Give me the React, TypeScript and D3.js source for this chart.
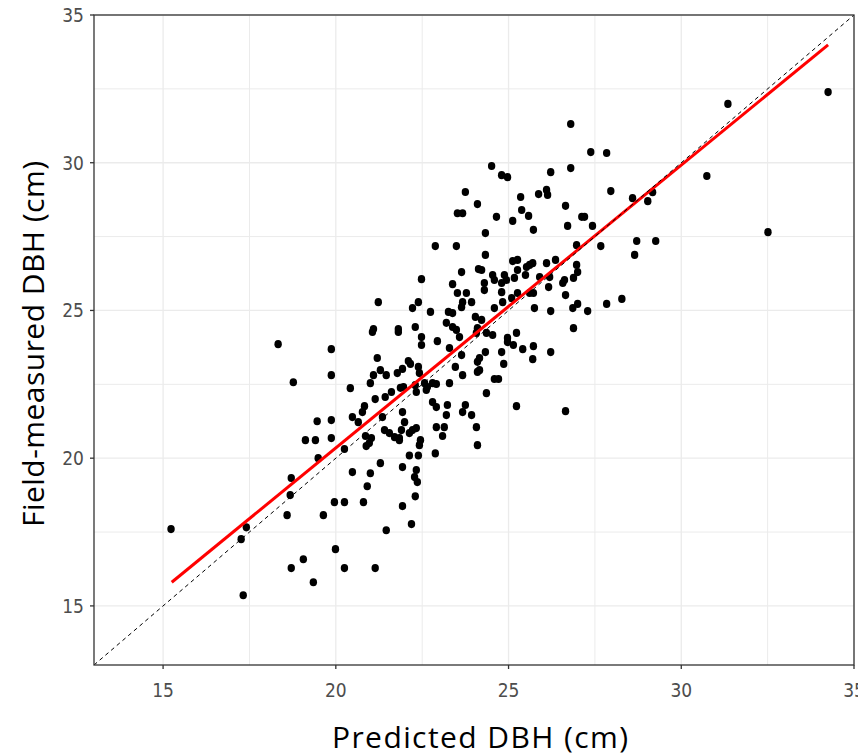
import React from "react";
import * as d3 from "d3";

// Predicted DBH (cm), Field-measured DBH (cm)
const observations: [number, number][] = [
  [15.23,17.60],[17.26,17.26],[17.41,17.66],[17.32,15.36],[18.33,23.86],[18.77,22.57],[19.46,21.25],[19.12,20.61],[19.41,20.61],[19.49,20.00],
  [18.71,19.33],[18.68,18.75],[18.59,18.07],[19.64,18.07],[19.06,16.58],[18.71,16.28],[19.35,15.80],[19.87,23.69],[19.87,22.81],[20.25,16.28],
  [21.14,16.28],[21.06,24.27],[21.81,24.27],[22.48,24.10],[22.48,23.83],[22.94,23.96],[21.20,23.39],[21.29,22.98],[21.09,22.81],[21.46,22.81],
  [22.10,23.29],[22.16,23.19],[21.93,23.02],[21.78,22.88],[22.39,23.09],[22.42,22.88],[21.96,22.41],[21.87,22.38],[21.61,22.24],[21.43,22.07],
  [21.14,22.00],[21.00,22.54],[20.42,22.37],[20.83,21.76],[20.77,21.56],[20.48,21.39],[20.65,21.22],[19.87,21.29],[19.87,20.68],[20.25,20.31],
  [20.86,20.75],[21.03,20.68],[20.97,20.51],[20.88,20.41],[21.35,21.39],[21.41,20.95],[21.55,20.85],[21.70,20.71],[21.84,20.68],[21.90,20.95],
  [21.84,20.61],[21.93,21.56],[21.99,21.22],[22.13,20.85],[22.22,20.95],[22.33,21.02],[22.45,20.61],[22.42,20.44],[22.33,22.24],[22.30,22.47],
  [22.57,22.54],[22.65,22.41],[22.62,22.31],[22.80,22.54],[22.91,22.51],[23.29,22.54],[22.80,21.90],[22.91,21.73],[23.23,21.80],[23.20,21.46],
  [23.75,21.80],[23.67,21.56],[23.93,21.46],[24.07,21.05],[22.91,21.05],[23.14,21.05],[23.09,20.75],[24.10,20.44],[22.13,20.09],[22.39,20.09],
  [22.88,20.16],[21.29,19.83],[20.48,19.53],[21.00,19.49],[21.93,19.70],[22.33,19.60],[22.28,19.36],[22.36,19.19],[20.91,19.05],[22.30,18.71],
  [19.96,18.51],[20.25,18.51],[20.80,18.51],[21.93,18.38],[22.19,17.77],[21.46,17.56],[19.99,16.92],[23.49,24.34],[23.58,24.10],[23.64,23.49],
  [24.07,24.24],[24.10,23.26],[24.10,22.92],[23.46,23.09],[23.67,22.81],[23.29,23.73],
  [23.75,29.01],[24.10,28.60],[23.52,28.29],[23.67,28.29],[22.88,27.18],[23.49,27.18],[24.13,26.40],[23.64,26.30],[22.48,26.06],[23.38,25.89],
  [23.52,25.59],[23.78,25.59],[21.23,25.28],[22.39,25.28],[22.22,25.08],[22.74,24.95],[23.67,25.28],[23.64,25.11],[23.93,25.28],[23.26,24.95],
  [23.38,24.91],[23.20,24.58],[23.38,24.44],[24.04,24.78],[21.09,24.37],[21.81,24.37],[22.30,24.44],[24.10,24.40],
  [26.80,31.31],[27.38,30.36],[27.84,30.33],[24.51,29.89],[24.80,29.58],[24.97,29.51],[26.22,29.68],[26.80,29.82],[26.10,29.08],[26.13,28.91],
  [25.87,28.94],[27.96,29.04],[25.35,28.84],[25.38,28.40],[25.58,28.20],[24.65,28.17],[25.12,28.03],[26.65,28.54],[27.12,28.17],[27.20,28.17],
  [26.71,27.86],[25.72,27.73],[27.43,27.86],[24.33,27.62],[26.97,27.21],[27.67,27.18],[24.33,26.88],[25.12,26.67],[25.26,26.71],[25.61,26.54],
  [25.70,26.60],[25.52,26.47],[25.26,26.37],[26.10,26.60],[26.36,26.71],[26.97,26.54],[27.00,26.30],[24.22,26.37],[24.54,26.20],[24.59,26.03],
  [24.88,26.20],[24.80,25.93],[24.94,26.03],[25.17,26.10],[25.49,26.20],[25.90,26.13],[26.19,26.13],[26.16,25.79],[24.30,25.93],[24.30,25.69],
  [24.80,25.62],[24.83,25.28],[25.09,25.42],[25.26,25.59],[25.61,25.59],[25.72,25.59],[26.57,25.93],[26.62,26.03],[26.88,26.10],[26.65,25.52],
  [24.59,25.08],[25.75,25.08],[26.22,24.98],[26.86,25.08],[27.00,25.22],[27.29,24.98],[27.84,25.22],[28.28,25.39],[26.88,24.40],[24.22,24.68],
  [24.36,24.24],[24.54,24.17],[24.97,24.07],[25.23,24.24],
  [24.97,23.93],[25.14,23.83],[24.33,23.59],[24.80,23.59],[25.41,23.69],[25.72,23.79],[25.70,23.35],[26.22,23.59],[24.86,23.19],[24.16,23.39],
  [24.16,22.98],[24.59,22.68],[24.71,22.68],[24.36,22.20],[25.23,21.76],[26.65,21.59],
  [34.25,32.39],[31.35,31.99],[30.74,29.55],[32.51,27.65],[28.59,28.80],[29.03,28.70],[29.17,29.00],[28.71,27.35],[29.26,27.35],[28.65,26.88],
];

// fitted linear regression line (red)
const fitLine: [number, number][] = [[15.25, 15.8], [34.25, 33.99]];
// 1:1 reference line (dashed)
const oneToOne: [number, number][] = [[13, 13], [35, 35]];

const xDomain: [number, number] = [13, 35];
const yDomain: [number, number] = [13, 35];
const majorTicks = [15, 20, 25, 30, 35];
const minorTicks = [12.5, 17.5, 22.5, 27.5, 32.5];

const xTitle = "Predicted DBH (cm)";
const yTitle = "Field-measured DBH (cm)";

const W = 858, H = 756;
const L = 94, R = 854, T = 15, B = 665;

export default function App() {
  const x = d3.scaleLinear().domain(xDomain).range([L, R]);
  const y = d3.scaleLinear().domain(yDomain).range([B, T]);
  const line = d3.line<[number, number]>().x(d => x(d[0])).y(d => y(d[1]));
  const inX = (v: number) => v >= xDomain[0] && v <= xDomain[1];
  const inY = (v: number) => v >= yDomain[0] && v <= yDomain[1];
  const tickFont = "'Liberation Sans Narrow', 'Arial Narrow', 'DejaVu Sans Condensed', sans-serif";
  const titleFont = "'Open Sans', 'Noto Sans', sans-serif";
  return (
    <svg width={W} height={H} style={{ position: "absolute", left: 0, top: 0, background: "#fff" }}>
      <defs>
        <clipPath id="panel"><rect x={L} y={T} width={R - L} height={B - T} /></clipPath>
      </defs>
      <rect x={L} y={T} width={R - L} height={B - T} fill="#fff" />
      <g stroke="#ebebeb">
        {minorTicks.filter(inX).map(t => <line key={"mx" + t} x1={x(t)} x2={x(t)} y1={T} y2={B} strokeWidth={1} />)}
        {minorTicks.filter(inY).map(t => <line key={"my" + t} y1={y(t)} y2={y(t)} x1={L} x2={R} strokeWidth={1} />)}
        {majorTicks.filter(inX).map(t => <line key={"Mx" + t} x1={x(t)} x2={x(t)} y1={T} y2={B} strokeWidth={1.3} />)}
        {majorTicks.filter(inY).map(t => <line key={"My" + t} y1={y(t)} y2={y(t)} x1={L} x2={R} strokeWidth={1.3} />)}
      </g>
      <g clipPath="url(#panel)">
        {observations.map((d, i) => (
          <ellipse key={i} cx={x(d[0])} cy={y(d[1])} rx={3.7} ry={4.1} fill="#000" />
        ))}
        <path d={line(fitLine) || ""} stroke="#ff0000" strokeWidth={3} fill="none" />
        <path d={line(oneToOne) || ""} stroke="#000" strokeWidth={1} strokeDasharray="4,3.5" fill="none" />
      </g>
      <rect x={L} y={T} width={R - L} height={B - T} fill="none" stroke="#333" strokeWidth={1.3} />
      <g stroke="#333" strokeWidth={1.3}>
        {majorTicks.map(t => <line key={"tx" + t} x1={x(t)} x2={x(t)} y1={B} y2={B + 4} />)}
        {majorTicks.map(t => <line key={"ty" + t} x1={L - 4} x2={L} y1={y(t)} y2={y(t)} />)}
      </g>
      <g fill="#4d4d4d" fontFamily={tickFont} fontSize={19}>
        {majorTicks.map(t => (
          <text key={"lx" + t} x={x(t)} y={B + 32} textAnchor="middle">{t}</text>
        ))}
        {majorTicks.map(t => (
          <text key={"ly" + t} x={L - 10} y={y(t)} dy="0.36em" textAnchor="end">{t}</text>
        ))}
      </g>
      <text x={480} y={748} textAnchor="middle" fontFamily={titleFont} fontSize={30} textLength={296} lengthAdjust="spacing" fill="#000">{xTitle}</text>
      <text transform={`translate(44,344) rotate(-90)`} textAnchor="middle" fontFamily={titleFont} fontSize={30} textLength={366} lengthAdjust="spacing" fill="#000">{yTitle}</text>
    </svg>
  );
}
